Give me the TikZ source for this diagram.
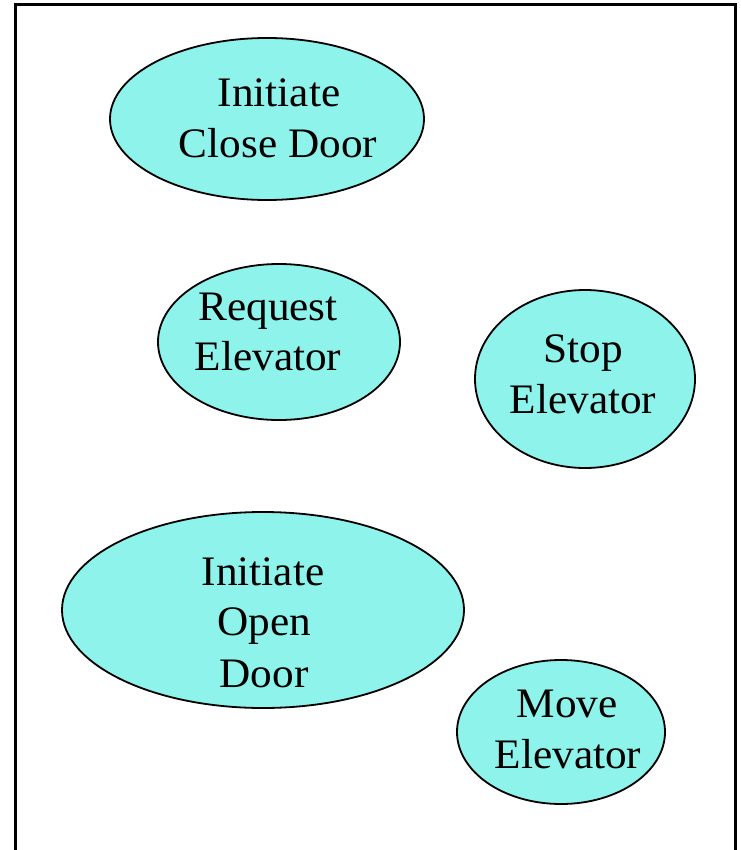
\documentclass[tikz,border=0pt]{standalone}
\usepackage{fontspec}
\setmainfont[FakeStretch=1.03]{Liberation Serif}
\usetikzlibrary{shapes.geometric}
\definecolor{usecase}{RGB}{142,243,234}
\tikzset{
  usecasebox/.style={ellipse, draw=black, line width=1.8pt, fill=usecase, inner sep=0pt},
  caselabel/.style={anchor=base, inner sep=0pt, font=\fontsize{42}{50}\selectfont},
  frameline/.style={draw=black, line width=3pt}
}
\begin{document}
\begin{tikzpicture}[x=1pt, y=-1pt]
\useasboundingbox (0,0) rectangle (740,850);
% system boundary (open at the bottom)
\draw[frameline] (15,852) -- (15,5) -- (735,5) -- (735,852);

% use cases
\node[usecasebox, minimum width=314pt, minimum height=162pt] (closedoor) at (267,119) {};
\node[usecasebox, minimum width=242pt, minimum height=156pt] (request) at (279,342) {};
\node[usecasebox, minimum width=220pt, minimum height=178pt] (stop) at (585,379) {};
\node[usecasebox, minimum width=402pt, minimum height=196pt] (opendoor) at (263,610) {};
\node[usecasebox, minimum width=208pt, minimum height=144pt] (move) at (561,732) {};

% labels
\node[caselabel] (closedoorA) at (279,107) {Initiate};
\node[caselabel] (closedoorB) at (278,158) {Close Door};
\node[caselabel] (requestA) at (268,320) {Request};
\node[caselabel] (requestB) at (268,370) {Elevator};
\node[caselabel] (stopA) at (583,362) {Stop};
\node[caselabel] (stopB) at (583,413) {Elevator};
\node[caselabel] (opendoorA) at (263,585) {Initiate};
\node[caselabel] (opendoorB) at (264,635) {Open};
\node[caselabel] (opendoorC) at (264,687) {Door};
\node[caselabel] (moveA) at (567,717) {Move};
\node[caselabel] (moveB) at (568,768) {Elevator};
\end{tikzpicture}
\end{document}
